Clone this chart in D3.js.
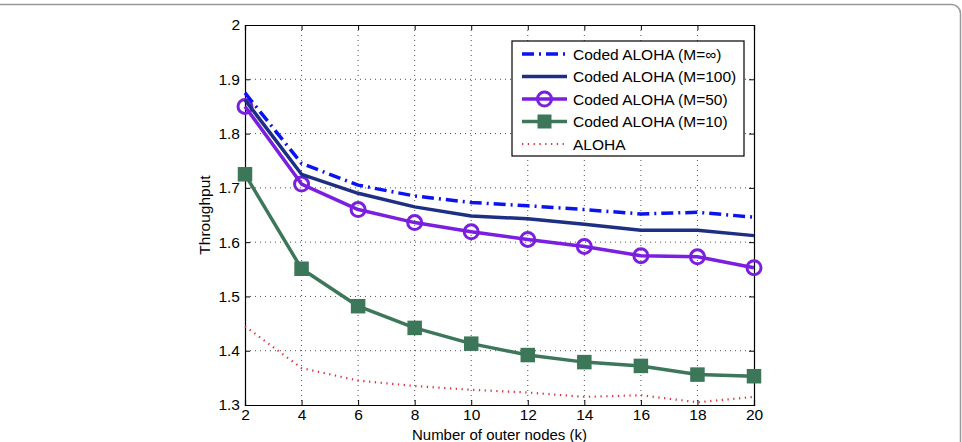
<!DOCTYPE html>
<html>
<head>
<meta charset="utf-8">
<script src="https://cdn.jsdelivr.net/npm/d3@7"></script>
<style>
  body { margin: 0; background: #fff; }
  svg { font-family: "Liberation Sans", Arial, sans-serif; }
</style>
</head>
<body>
<div id="chart"></div>
<script>
// data
const kValues = [2, 4, 6, 8, 10, 12, 14, 16, 18, 20];
const codedInf = [1.875, 1.745, 1.705, 1.685, 1.673, 1.667, 1.660, 1.652, 1.655, 1.646];
const coded100 = [1.862, 1.725, 1.690, 1.665, 1.648, 1.643, 1.633, 1.622, 1.622, 1.612];
const coded50 = [1.850, 1.707, 1.660, 1.636, 1.619, 1.605, 1.592, 1.575, 1.573, 1.553];
const coded10 = [1.725, 1.551, 1.482, 1.442, 1.413, 1.392, 1.379, 1.372, 1.356, 1.353];
const aloha = [1.445, 1.368, 1.345, 1.335, 1.328, 1.323, 1.315, 1.318, 1.305, 1.315];
const xTicks = [2, 4, 6, 8, 10, 12, 14, 16, 18, 20];
const yTicks = [1.3, 1.4, 1.5, 1.6, 1.7, 1.8, 1.9, 2];

const dimensions = { width: 962, height: 442, left: 245, right: 754, top: 25, bottom: 405 };

const series = [
  { name: 'Coded ALOHA (M=\u221E)', values: codedInf, color: '#0a14f0', width: 3.5, dash: '12,5,2,5' },
  { name: 'Coded ALOHA (M=100)', values: coded100, color: '#1c2f82', width: 3.5, dash: null },
  { name: 'Coded ALOHA (M=50)', values: coded50, color: '#7a1ee0', width: 3.5, dash: null, marker: 'circle' },
  { name: 'Coded ALOHA (M=10)', values: coded10, color: '#3c775a', width: 3.5, dash: null, marker: 'square' },
  { name: 'ALOHA', values: aloha, color: '#e0323e', width: 2.2, dash: '1.3,4.5' }
];

const svg = d3.select('#chart').append('svg')
  .attr('width', dimensions.width)
  .attr('height', dimensions.height);

// outer rounded frame
svg.append('rect')
  .attr('x', -12).attr('y', 4.5)
  .attr('width', 972.5).attr('height', 470)
  .attr('rx', 9)
  .attr('fill', 'none')
  .attr('stroke', '#9a9a9a')
  .attr('stroke-width', 1.5);

const xScale = d3.scaleLinear().domain([2, 20]).range([dimensions.left, dimensions.right]);
const yScale = d3.scaleLinear().domain([1.3, 2]).range([dimensions.bottom, dimensions.top]);

// grid
const grid = svg.append('g').attr('stroke', '#222').attr('stroke-width', 0.8).attr('stroke-dasharray', '1,4');
grid.selectAll('.gx').data(xTicks.slice(1, -1)).join('line')
  .attr('x1', d => xScale(d)).attr('x2', d => xScale(d))
  .attr('y1', dimensions.top).attr('y2', dimensions.bottom);
grid.selectAll('.gy').data(yTicks.slice(1, -1)).join('line')
  .attr('x1', dimensions.left).attr('x2', dimensions.right)
  .attr('y1', d => yScale(d)).attr('y2', d => yScale(d));

// axes
const xAxis = d3.axisBottom(xScale).tickValues(xTicks).tickSize(-5).tickPadding(4).tickFormat(d3.format('d'));
const yAxis = d3.axisLeft(yScale).tickValues(yTicks).tickSize(-5).tickPadding(5).tickFormat(d => d === 2 ? '2' : d3.format('.1f')(d));
const xTop = d3.axisTop(xScale).tickValues(xTicks).tickSize(-5).tickFormat('');
const yRight = d3.axisRight(yScale).tickValues(yTicks).tickSize(-5).tickFormat('');

const styleAxis = g => {
  g.select('.domain').attr('stroke', '#000').attr('stroke-width', 1.2);
  g.selectAll('.tick line').attr('stroke', '#000');
  g.selectAll('.tick text').attr('font-size', 15.5).attr('fill', '#000')
    .attr('font-family', '"Liberation Sans", Arial, sans-serif');
};

svg.append('g').attr('transform', `translate(0,${dimensions.bottom})`).call(xAxis).call(styleAxis);
svg.append('g').attr('transform', `translate(${dimensions.left},0)`).call(yAxis).call(styleAxis);
svg.append('g').attr('transform', `translate(0,${dimensions.top})`).call(xTop).call(styleAxis);
svg.append('g').attr('transform', `translate(${dimensions.right},0)`).call(yRight).call(styleAxis);

// axis labels
svg.append('text')
  .attr('x', (dimensions.left + dimensions.right) / 2).attr('y', 440)
  .attr('text-anchor', 'middle').attr('font-size', 15)
  .text('Number of outer nodes (k)');
svg.append('text')
  .attr('transform', `translate(210,${(dimensions.top + dimensions.bottom) / 2}) rotate(-90)`)
  .attr('text-anchor', 'middle').attr('font-size', 15.5)
  .text('Throughput');

// lines
const line = d3.line().x((d, i) => xScale(kValues[i])).y(d => yScale(d));
const plot = svg.append('g');

// draw from the bottom series up so the dashed blue sits on top
[...series].reverse().forEach(s => {
  plot.append('path')
    .datum(s.values)
    .attr('d', line)
    .attr('fill', 'none')
    .attr('stroke', s.color)
    .attr('stroke-width', s.width)
    .attr('stroke-linejoin', 'round')
    .attr('stroke-dasharray', s.dash);

  if (s.marker === 'circle') {
    plot.selectAll(null).data(s.values).join('circle')
      .attr('cx', (d, i) => xScale(kValues[i]))
      .attr('cy', d => yScale(d))
      .attr('r', 7)
      .attr('fill', 'none')
      .attr('stroke', s.color)
      .attr('stroke-width', 3);
  }
  if (s.marker === 'square') {
    plot.selectAll(null).data(s.values).join('rect')
      .attr('x', (d, i) => xScale(kValues[i]) - 6.5)
      .attr('y', d => yScale(d) - 6.5)
      .attr('width', 13).attr('height', 13)
      .attr('fill', s.color)
      .attr('stroke', s.color)
      .attr('stroke-width', 1.5);
  }
});

// legend
const legend = svg.append('g').attr('transform', 'translate(512,41)');
legend.append('rect')
  .attr('width', 232).attr('height', 115)
  .attr('fill', '#fff').attr('stroke', '#000').attr('stroke-width', 1.2);

series.forEach((s, i) => {
  const y = 13 + i * 22.5;
  const row = legend.append('g').attr('transform', `translate(0,${y})`);
  row.append('line')
    .attr('x1', 10).attr('x2', 55).attr('y1', 0).attr('y2', 0)
    .attr('stroke', s.color).attr('stroke-width', s.width)
    .attr('stroke-dasharray', s.dash);
  if (s.marker === 'circle') {
    row.append('circle').attr('cx', 32.5).attr('cy', 0).attr('r', 7)
      .attr('fill', 'none').attr('stroke', s.color).attr('stroke-width', 3);
  }
  if (s.marker === 'square') {
    row.append('rect').attr('x', 26).attr('y', -6.5).attr('width', 13).attr('height', 13)
      .attr('fill', s.color).attr('stroke', s.color);
  }
  row.append('text')
    .attr('x', 61).attr('y', 5.5)
    .attr('font-size', 15.5)
    .text(s.name);
});
</script>
</body>
</html>
